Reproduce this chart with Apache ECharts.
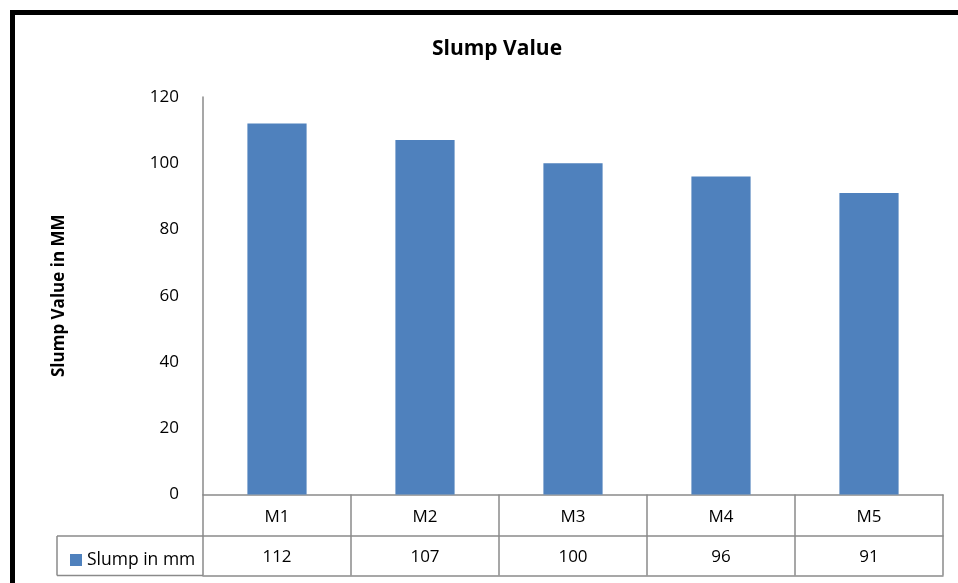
<!DOCTYPE html>
<html>
<head>
    <meta charset="utf-8">
    <title>Slump Value</title>
    <script src="https://cdn.jsdelivr.net/npm/echarts@6/dist/echarts.min.js"></script>
    <style>
        html, body { margin: 0; padding: 0; background: #fff; }
        #main { width: 958px; height: 583px; }
    </style>
</head>
<body>
<div id="main"></div>
<script>
    // data
    var mixes = ['M1', 'M2', 'M3', 'M4', 'M5'];
    var slump = [112, 107, 100, 96, 91];
    var seriesName = 'Slump in mm';

    var font = 'Open Sans';
    var gridCol = '#8a8a8a';
    var axisTop = 97, axisZero = 494.5, rowH = 41.5, gridLeft = 203, legendLeft = 57;

    var chart = echarts.init(document.getElementById('main'));

    chart.setOption({
        animation: false,
        textStyle: {fontFamily: font},
        title: {
            text: 'Slump Value',
            left: 492,
            top: 34,
            textAlign: 'center',
            textStyle: {fontSize: 21, fontWeight: 'bold', color: '#000', fontFamily: font}
        },
        legend: {
            data: [seriesName],
            left: 65,
            top: 546,
            icon: 'rect',
            itemWidth: 12,
            itemHeight: 12,
            itemGap: 5,
            textStyle: {fontSize: 17.5, color: '#000', fontFamily: font}
        },
        grid: {
            left: gridLeft,
            right: 15,
            top: axisTop,
            bottom: 583 - axisZero,
            containLabel: false
        },
        xAxis: [
            {
                // category row of the data table
                type: 'category',
                data: mixes,
                position: 'bottom',
                axisLine: {lineStyle: {color: gridCol, width: 1.5}},
                axisTick: {show: true, alignWithLabel: false, length: rowH, lineStyle: {color: gridCol, width: 1.5}},
                axisLabel: {color: '#000', fontSize: 17, margin: 14}
            },
            {
                // value row of the data table
                type: 'category',
                data: mixes,
                position: 'bottom',
                offset: rowH,
                axisLine: {lineStyle: {color: gridCol, width: 1.5}},
                axisTick: {show: true, alignWithLabel: false, length: rowH - 2, lineStyle: {color: gridCol, width: 1.5}},
                axisLabel: {
                    color: '#000', fontSize: 17, margin: 13,
                    formatter: function (v, i) { return String(slump[i]); }
                }
            },
            {
                // bottom edge of the table
                type: 'category',
                data: mixes,
                position: 'bottom',
                offset: rowH * 2 - 2,
                axisLine: {lineStyle: {color: gridCol, width: 1.5}},
                axisTick: {show: false},
                axisLabel: {show: false}
            }
        ],
        yAxis: {
            type: 'value',
            min: 0,
            max: 120,
            interval: 20,
            name: 'Slump Value in MM',
            nameLocation: 'middle',
            nameGap: 135,
            nameTextStyle: {fontSize: 17, fontWeight: 'bold', color: '#000', fontFamily: font},
            axisLine: {show: true, lineStyle: {color: gridCol, width: 1.5}},
            axisTick: {show: false},
            splitLine: {show: false},
            axisLabel: {color: '#000', fontSize: 17, margin: 24}
        },
        series: [
            {
                name: seriesName,
                type: 'bar',
                xAxisIndex: 0,
                data: slump,
                barWidth: '40%',
                itemStyle: {color: '#4F81BD'}
            }
        ],
        graphic: [
            // legend cell of the data table
            {type: 'line', shape: {x1: legendLeft, y1: axisZero + rowH, x2: gridLeft, y2: axisZero + rowH},
                style: {stroke: gridCol, lineWidth: 1.5}},
            {type: 'line', shape: {x1: legendLeft, y1: axisZero + rowH * 2 - 2, x2: gridLeft, y2: axisZero + rowH * 2 - 2},
                style: {stroke: gridCol, lineWidth: 1.5}},
            {type: 'line', shape: {x1: legendLeft, y1: axisZero + rowH, x2: legendLeft, y2: axisZero + rowH * 2 - 2},
                style: {stroke: gridCol, lineWidth: 1.5}},
            // outer frame of the chart
            {type: 'rect', shape: {x: 12.5, y: 12.5, width: 1000, height: 1000},
                style: {fill: 'none', stroke: '#000', lineWidth: 5}, z: 100}
        ]
    });
</script>
</body>
</html>
